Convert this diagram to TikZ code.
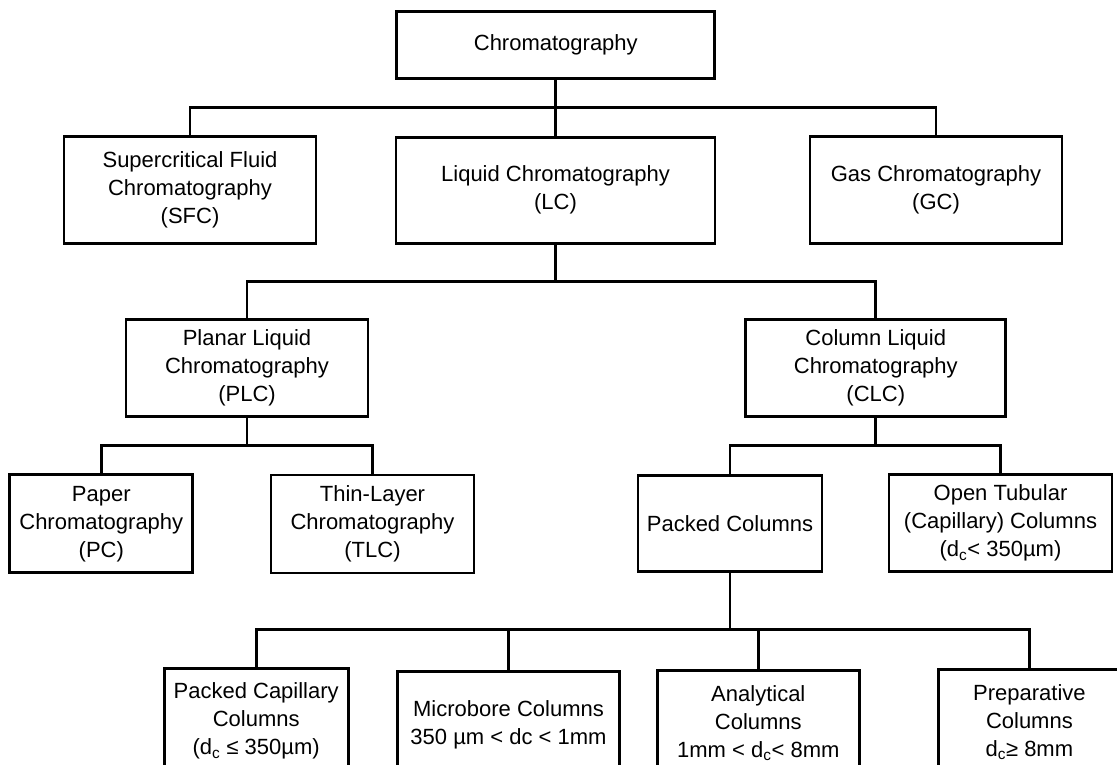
\documentclass[tikz,border=0pt]{standalone}
\usepackage{fontspec}
\setmainfont{Liberation Sans}
\usepackage{tikz}
\tikzset{
    cbox/.style={draw=black,line width=2.8pt,align=center,inner sep=0pt,
        font=\fontsize{22}{28}\selectfont},
    link/.style={line width=2.8pt}
}

\begin{document}
\begin{tikzpicture}[x=1pt,y=-1pt]
                \useasboundingbox (0,0) rectangle (1117,765);
                \clip (0,0) rectangle (1117,765);
                \node[cbox,minimum width=318pt,minimum height=67pt] (Chrom) at (555.8,45.3) {Chromatography};
                \node[cbox,minimum width=252pt,minimum height=107pt] (SFC) at (190,189.7) {Supercritical Fluid\\Chromatography\\(SFC)};
                \node[cbox,minimum width=319pt,minimum height=106pt] (LC) at (555.5,190.2) {Liquid Chromatography\\(LC)};
                \node[cbox,minimum width=252pt,minimum height=107pt] (GC) at (936,190.3) {Gas Chromatography\\(GC)};
                \node[cbox,minimum width=242pt,minimum height=97pt] (PLC) at (247,368.3) {Planar Liquid\\Chromatography\\(PLC)};
                \node[cbox,minimum width=260pt,minimum height=97pt] (CLC) at (875.8,368.3) {Column Liquid\\Chromatography\\(CLC)};
                \node[cbox,minimum width=183pt,minimum height=98pt] (PC) at (101.3,523.8) {Paper\\Chromatography\\(PC)};
                \node[cbox,minimum width=203pt,minimum height=98pt] (TLC) at (372.5,524) {Thin-Layer\\Chromatography\\(TLC)};
                \node[cbox,minimum width=184pt,minimum height=96pt] (PCol) at (730,523.7) {Packed Columns};
                \node[cbox,minimum width=223pt,minimum height=97pt] (OTC) at (1000.5,523.3) {Open Tubular\\(Capillary) Columns\\(d\textsubscript{c}< 350µm)};
                \node[cbox,minimum width=184pt,minimum height=106pt] (PCC) at (256.2,721.3) {Packed Capillary\\Columns\\(d\textsubscript{c} ≤ 350µm)};
                \node[cbox,minimum width=222pt,minimum height=106pt] (MBC) at (508.5,724.7) {Microbore Columns\\350 µm < dc < 1mm};
                \node[cbox,minimum width=202pt,minimum height=106pt] (AC) at (758.3,723.5) {Analytical\\Columns\\1mm < d\textsubscript{c}< 8mm};
                \node[cbox,minimum width=182pt,minimum height=106pt] (PrC) at (1029.4,722.3) {Preparative\\Columns\\d\textsubscript{c}≥ 8mm};
                \foreach \c in {SFC,LC,GC} \draw[link] (Chrom.south) -- ++(0,27) -| (\c.north);
                \foreach \c in {PLC,CLC} \draw[link] (LC.south) -- ++(0,37) -| (\c.north);
                \foreach \c in {PC,TLC} \draw[link] (PLC.south) -- ++(0,27) -| (\c.north);
                \foreach \c in {PCol,OTC} \draw[link] (CLC.south) -- ++(0,27) -| (\c.north);
                \foreach \c in {PCC,MBC,AC,PrC} \draw[link] (PCol.south) -- ++(0,56) -| (\c.north);
            \end{tikzpicture}
\end{document}
